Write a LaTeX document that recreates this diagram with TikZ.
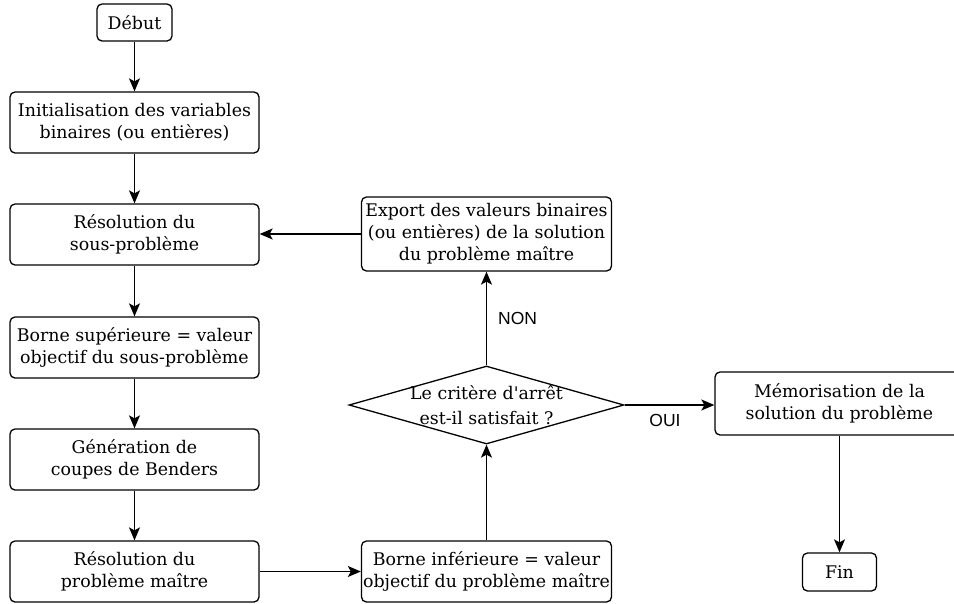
\documentclass[tikz,border=0pt]{standalone}
\usepackage{fontspec}
\setmainfont{DejaVu Serif}
\newfontfamily\labelfont{Liberation Sans}
\usetikzlibrary{arrows.meta,shapes.geometric}
\tikzset{
  box/.style={draw, line width=1.3pt, rounded corners=5pt, align=center, inner sep=0pt,
    font=\fontsize{17.4}{22}\selectfont},
  arr/.style={line width=1.3pt, -{Stealth[length=13pt,width=11pt,inset=3pt]}},
  lbl/.style={font=\labelfont\fontsize{17.5}{20}\selectfont, inner sep=0pt}
}
\begin{document}
\begin{tikzpicture}[x=1pt,y=-1pt]
\useasboundingbox (0,0) rectangle (954,603);
\clip (0,0) rectangle (954,603);
\node[box, minimum width=75pt, minimum height=37pt] (debut) at (134.5,22.5) {Début};
\node[box, minimum width=249pt, minimum height=61pt] (init) at (134.5,122.5) {Initialisation des variables\\binaires (ou entières)};
\node[box, minimum width=249pt, minimum height=61pt] (ress) at (134.5,234.5) {Résolution du\\sous-problème};
\node[box, minimum width=249pt, minimum height=61pt] (bsup) at (134.5,347.5) {Borne supérieure = valeur\\objectif du sous-problème};
\node[box, minimum width=249pt, minimum height=61pt] (gen) at (134.5,459.5) {Génération de\\coupes de Benders};
\node[box, minimum width=249pt, minimum height=61pt] (resm) at (134.5,571.5) {Résolution du\\problème maître};
\node[box, minimum width=250pt, minimum height=61pt] (binf) at (486.5,571.5) {Borne inférieure = valeur\\objectif du problème maître};
\node[draw, line width=1.3pt, diamond, aspect=3.5, minimum width=275pt, minimum height=78pt, inner sep=0pt] (dec) at (486.5,405) {};
\node[align=center, font=\fontsize{17.4}{25}\selectfont, inner sep=0pt] (dectext) at (486.5,405) {Le critère d\textquotesingle arrêt\\est-il satisfait ?};
\node[box, minimum width=250pt, minimum height=74pt] (exp) at (486.5,234) {Export des valeurs binaires\\(ou entières) de la solution\\du problème maître};
\node[box, minimum width=249pt, minimum height=63pt] (mem) at (839.5,403.5) {Mémorisation de la\\solution du problème};
\node[box, minimum width=74pt, minimum height=38pt] (fin) at (839.5,572) {Fin};

\draw[arr] (debut) -- (init);
\draw[arr] (init) -- (ress);
\draw[arr] (ress) -- (bsup);
\draw[arr] (bsup) -- (gen);
\draw[arr] (gen) -- (resm);
\draw[arr] (resm) -- (binf);
\draw[arr] (binf) -- (dec);
\draw[arr] (dec) -- node[lbl, right=11pt, pos=0.5] (non) {NON} (exp);
\draw[arr] (exp.west) -- (exp.west -| ress.east);
\draw[arr] (dec.east) -- node[lbl, below=9pt, pos=0.45] (oui) {OUI} (dec.east -| mem.west);
\draw[arr] (mem) -- (fin);
\end{tikzpicture}
\end{document}
